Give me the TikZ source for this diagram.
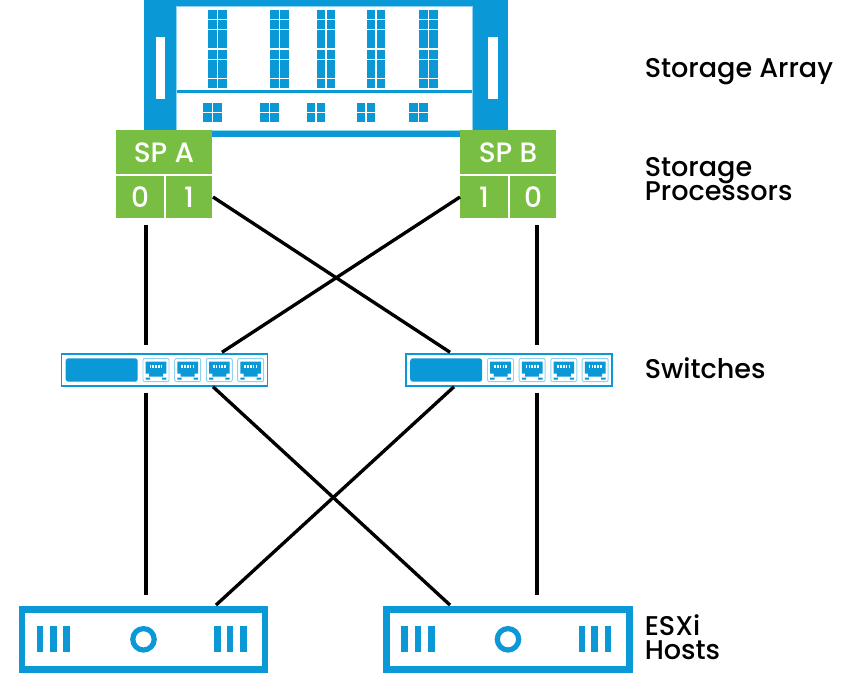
\documentclass[tikz,border=0pt]{standalone}
\usepackage{fontspec}
\setmainfont{Poppins Medium}
\definecolor{vblue}{HTML}{0B98D6}
\definecolor{vlight}{HTML}{8FD3F0}
\definecolor{vgreen}{HTML}{78BE43}
\begin{document}
\begin{tikzpicture}[
  x=0.75pt, y=-0.75pt,
  spbox/.style={fill=vgreen, text=white, inner sep=0pt, outer sep=0pt, text height=16pt, text depth=0pt, font=\fontsize{21}{24}\selectfont},
  switchbox/.style={draw=vblue, fill=white, line width=1.1pt, minimum width=154.5pt, minimum height=24pt, inner sep=0pt},
  hostbox/.style={draw=vblue, fill=white, line width=4.9pt, minimum width=182pt, minimum height=45pt, inner sep=0pt},
  layer/.style={anchor=base west, align=left, inner sep=0pt, font={\fontsize{20.3}{18}\selectfont\lineskiplimit=-20pt\relax}},
  link/.style={draw=black, line width=2.5pt},
  disk/.style={fill=vblue},
  rjport/.pic={
    \draw[vlight, line width=0.7pt, fill=white, rounded corners=1.5pt] (-13,-11.7) rectangle (13,11.7);
    \fill[vblue] (-10.3,-8.5) -- (10.3,-8.5) -- (10.3,3.5) -- (7,3.5) -- (7,6.5) -- (-7,6.5) -- (-7,3.5) -- (-10.3,3.5) -- cycle;
    \fill[vblue] (-10.3,7.5) rectangle (-6,9.5) (6,7.5) rectangle (10.3,9.5);
    \foreach \px in {-5.6,-2.8,0,2.8,5.6}
      \fill[white] (\px-0.8,-5.5) rectangle (\px+0.8,-2);
  },
]
  \useasboundingbox (0,0) rectangle (852,672);

  % storage array
  \fill[vblue] (143.5,-2) rectangle (508,136.7);
  \fill[white, draw=vlight, line width=0.4pt] (176.7,6) rectangle (472.3,130);
  \fill[vblue] (176.7,90) rectangle (472.3,93.3);
  \fill[white] (155.7,36.7) rectangle (165,99);
  \fill[white] (488.3,36.7) rectangle (497.7,99);
  \foreach \dx in {208.3,270,316.7,366.7,419.3}
    \foreach \dy in {10,20,30,39.3,50,60,69.3,79.3} {
      \path[disk] (\dx,\dy) rectangle +(8.5,8.5);
      \path[disk] (\dx+10,\dy) rectangle +(8.5,8.5);
    }
  \foreach \dx in {203.3,260,306.7,356.7,409}
    \foreach \dy in {103.3,113.3} {
      \path[disk] (\dx,\dy) rectangle +(8.5,8.5);
      \path[disk] (\dx+10,\dy) rectangle +(8.5,8.5);
    }

  % storage processors
  \node[spbox, minimum width=72pt, minimum height=33.4pt] (spa) at (164,152.2) {SP A};
  \node[spbox, minimum width=36pt, minimum height=31.5pt] (spa0) at (140,197) {0};
  \node[spbox, minimum width=34.5pt, minimum height=31.5pt] (spa1) at (189,197) {1};
  \node[spbox, minimum width=72pt, minimum height=33.4pt] (spb) at (508,152.2) {SP B};
  \node[spbox, minimum width=36pt, minimum height=31.5pt] (spb1) at (484,197) {1};
  \node[spbox, minimum width=34.5pt, minimum height=31.5pt] (spb0) at (533,197) {0};

  % switches
  \foreach \cx/\swname in {164.5/swa, 509/swb} {
    \node[switchbox] (\swname) at (\cx,370) {};
    \fill[vblue, rounded corners=2pt] (\cx-98.8,358.3) rectangle (\cx-26.8,381.7);
    \foreach \ox in {-8.5,23.2,54.8,86.2}
      \pic at (\cx+\ox,370) {rjport};
  }

  % hosts
  \foreach \cx/\hostname in {143.5/hosta, 508/hostb} {
    \node[hostbox] (\hostname) at (\cx,639.3) {};
    \foreach \ox in {-106.8,-93.5,-80.2,70.5,83.2,96.5}
      \fill[vblue] (\cx+\ox,626) rectangle +(6.7,26);
    \draw[vblue, line width=3.9pt] (\cx,639.3) circle (10.7);
  }

  \draw[link] ([shift={(6,7)}]spa0.south) -- ([shift={(-18.5,-8)}]swa.north);
  \draw[link] ([shift={(1,0)}]spa1.east) -- ([shift={(-59,-1)}]swb.north);
  \draw[link] (spb1.west) -- ([shift={(57.5,-1)}]swa.north);
  \draw[link] ([shift={(4,7)}]spb0.south) -- ([shift={(28,-8)}]swb.north);

  \draw[link] ([shift={(-18.5,6)}]swa.south) -- ([shift={(2.5,-11)}]hosta.north);
  \draw[link] ([shift={(48.5,0)}]swa.south) -- ([shift={(-58,-1)}]hostb.north);
  \draw[link] ([shift={(-55,0)}]swb.south) -- ([shift={(72.5,-1)}]hosta.north);
  \draw[link] ([shift={(28,6)}]swb.south) -- ([shift={(29,-11)}]hostb.north);

  \node[layer] (lblarray) at (644.5,77.3) {Storage Array};
  \node[layer] (lblsp) at (644.5,200) {Storage\\Processors};
  \node[layer] (lblsw) at (644.5,378.5) {Switches};
  \node[layer] (lblhost) at (644.5,659) {ESXi\\Hosts};
\end{tikzpicture}
\end{document}
